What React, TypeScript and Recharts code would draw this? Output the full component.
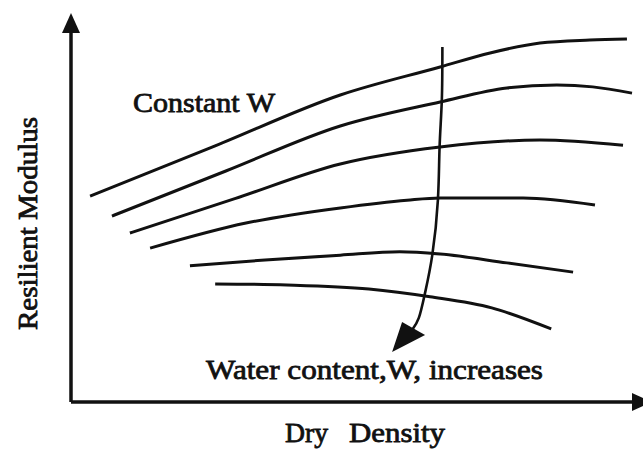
import React from 'react';
import { LineChart, Line, XAxis, YAxis, ReferenceLine, ReferenceDot } from 'recharts';

// six constant-W curves, dry density (d) vs resilient modulus (m) (0-100 scale)
const curveW1 = [
  { d: 3.4, m: 55.8 }, { d: 25.7, m: 69.4 }, { d: 48.0, m: 83.2 }, { d: 65.8, m: 90.8 },
  { d: 74.7, m: 94.6 }, { d: 83.6, m: 97.3 }, { d: 92.5, m: 98.1 }, { d: 99.1, m: 98.4 },
];
const curveW2 = [
  { d: 7.3, m: 50.4 }, { d: 27.6, m: 62.6 }, { d: 48.0, m: 74.8 }, { d: 65.8, m: 81.3 },
  { d: 77.7, m: 85.1 }, { d: 86.6, m: 85.9 }, { d: 93.0, m: 85.4 }, { d: 100, m: 83.7 },
];
const curveW3 = [
  { d: 10.5, m: 45.8 }, { d: 29.2, m: 55.1 }, { d: 48.0, m: 64.5 }, { d: 65.8, m: 69.1 },
  { d: 83.6, m: 71.0 }, { d: 98.4, m: 69.6 },
];
const curveW4 = [
  { d: 14.1, m: 41.7 }, { d: 31.2, m: 48.5 }, { d: 48.0, m: 52.6 }, { d: 59.9, m: 54.7 },
  { d: 65.8, m: 55.3 }, { d: 80.6, m: 55.3 }, { d: 93.4, m: 53.4 },
];
const curveW5 = [
  { d: 21.2, m: 36.9 }, { d: 34.6, m: 38.5 }, { d: 48.0, m: 39.8 }, { d: 58.6, m: 40.7 },
  { d: 65.8, m: 40.1 }, { d: 77.7, m: 37.7 }, { d: 89.5, m: 35.2 },
];
const curveW6 = [
  { d: 25.7, m: 32.0 }, { d: 38.5, m: 31.7 }, { d: 53.1, m: 30.6 }, { d: 64.0, m: 28.5 },
  { d: 75.0, m: 25.5 }, { d: 85.6, m: 19.8 },
];
// the "W increases" arrow
const arrowPath = [
  { d: 66.2, m: 96.2 }, { d: 66.1, m: 81.8 }, { d: 65.7, m: 69.1 }, { d: 65.4, m: 54.7 },
  { d: 64.4, m: 39.8 }, { d: 63.1, m: 29.5 }, { d: 62.0, m: 22.8 }, { d: 60.8, m: 19.5 },
];

const curves = [curveW1, curveW2, curveW3, curveW4, curveW5, curveW6];

const INK = '#111';
const serif = '"Liberation Serif", "Times New Roman", Times, serif';

const ArrowHead = (props: any) => {
  const { cx, cy, index } = props;
  if (index !== arrowPath.length - 1) return <g key={`a-${index}`} />;
  return (
    <polygon
      key={`a-${index}`}
      points={`${cx - 20},${cy + 22} ${cx - 10},${cy - 8} ${cx + 13},${cy + 5}`}
      fill={INK}
    />
  );
};

// axis arrow heads, drawn at the axis ends
const RightHead = (p: any) => (
  <polygon points={`${p.cx},${p.cy - 9} ${p.cx + 20},${p.cy} ${p.cx},${p.cy + 9}`} fill={INK} />
);
const UpHead = (p: any) => (
  <polygon points={`${p.cx - 9},${p.cy} ${p.cx},${p.cy - 20} ${p.cx + 9},${p.cy}`} fill={INK} />
);

const App: React.FC = () => {
  return (
    <div style={{ position: 'absolute', left: 0, top: 0, width: 643, height: 452, background: '#fff' }}>
      <LineChart width={643} height={452} margin={{ top: 33, right: 11, bottom: 50, left: 71 }}>
        <XAxis dataKey="d" type="number" domain={[0, 100]} hide />
        <YAxis type="number" domain={[0, 100]} hide />
        <ReferenceLine x={0} stroke={INK} strokeWidth={3.5} ifOverflow="visible" />
        <ReferenceLine y={0} stroke={INK} strokeWidth={3.5} ifOverflow="visible" />
        <ReferenceDot x={100} y={0} shape={RightHead} ifOverflow="visible" />
        <ReferenceDot x={0} y={100} shape={UpHead} ifOverflow="visible" />
        {curves.map((c, i) => (
          <Line key={`w-${i}`} data={c} dataKey="m" type="monotone" stroke={INK}
            strokeWidth={3} dot={false} activeDot={false} isAnimationActive={false} />
        ))}
        <Line data={arrowPath} dataKey="m" type="natural" stroke={INK} strokeWidth={2.6}
          dot={ArrowHead} activeDot={false} isAnimationActive={false} />
      </LineChart>

      {/* labels */}
      <svg width={643} height={452} style={{ position: 'absolute', left: 0, top: 0, pointerEvents: 'none' }}>
        <g style={{ fontFamily: serif, fontSize: 28 }} fill={INK} stroke={INK} strokeWidth={0.8}>
          <text x={133} y={112} textLength={142} lengthAdjust="spacingAndGlyphs">Constant W</text>
          <text x={206} y={379} textLength={337} lengthAdjust="spacingAndGlyphs">Water content,W, increases</text>
          <text x={285} y={442} textLength={43} lengthAdjust="spacingAndGlyphs">Dry</text>
          <text x={349} y={442} textLength={96} lengthAdjust="spacingAndGlyphs">Density</text>
          <text transform="translate(37,223.5) rotate(-90)" textAnchor="middle"
            textLength={213} lengthAdjust="spacingAndGlyphs">Resilient Modulus</text>
        </g>
      </svg>
    </div>
  );
};

export default App;
